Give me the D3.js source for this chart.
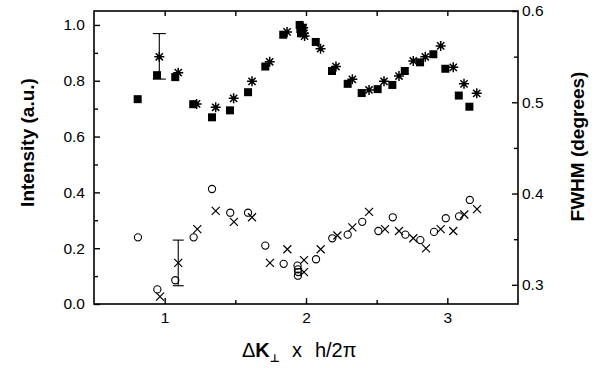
<!DOCTYPE html>
<html>
<head>
<meta charset="utf-8">
<script src="https://cdn.jsdelivr.net/npm/d3@7"></script>
<style>
  body { margin: 0; background: #fff; }
  text { font-family: "Liberation Sans", Arial, Helvetica, sans-serif; fill: #000; }
</style>
</head>
<body>
<svg id="chart" width="600" height="368"></svg>
<script>
// intensity, filled squares (left axis)
var sqX = [0.809, 0.946, 1.075, 1.202, 1.335, 1.462, 1.59, 1.712, 1.839, 1.955, 1.96, 1.965, 1.975,
  2.069, 2.184, 2.295, 2.394, 2.507, 2.611, 2.699, 2.807, 2.901, 2.986, 3.081, 3.156];
var sqY = [0.734, 0.82, 0.813, 0.716, 0.669, 0.694, 0.759, 0.851, 0.965, 1.0, 0.985, 0.97, 0.99,
  0.939, 0.835, 0.789, 0.756, 0.77, 0.785, 0.835, 0.866, 0.895, 0.843, 0.747, 0.707];
// intensity, asterisks (left axis)
var starX = [0.962, 1.096, 1.226, 1.361, 1.488, 1.618, 1.743, 1.866, 1.98, 1.985, 1.99,
  2.103, 2.212, 2.328, 2.446, 2.552, 2.658, 2.759, 2.844, 2.953, 3.042, 3.118, 3.208];
var starY = [0.886, 0.829, 0.717, 0.705, 0.737, 0.798, 0.868, 0.975, 0.99, 0.97, 0.96,
  0.915, 0.851, 0.805, 0.767, 0.798, 0.817, 0.871, 0.886, 0.925, 0.848, 0.789, 0.755];
// FWHM, open circles (right axis)
var circX = [0.811, 0.948, 1.075, 1.205, 1.335, 1.464, 1.59, 1.712, 1.842, 1.94, 1.943, 1.945, 1.943,
  2.071, 2.186, 2.295, 2.398, 2.512, 2.614, 2.703, 2.809, 2.906, 2.989, 3.083, 3.159];
var circY = [0.352, 0.295, 0.305, 0.352, 0.405, 0.379, 0.379, 0.343, 0.323, 0.321, 0.317, 0.314, 0.310,
  0.328, 0.351, 0.355, 0.369, 0.359, 0.374, 0.355, 0.349, 0.358, 0.373, 0.375, 0.393];
// FWHM, crosses (right axis)
var crossX = [0.967, 1.096, 1.231, 1.361, 1.49, 1.618, 1.745, 1.868, 1.986, 1.986,
  2.104, 2.222, 2.328, 2.446, 2.559, 2.658, 2.759, 2.849, 2.953, 3.042, 3.12, 3.21];
var crossY = [0.287, 0.324, 0.361, 0.381, 0.369, 0.374, 0.324, 0.339, 0.327, 0.314,
  0.339, 0.354, 0.363, 0.380, 0.361, 0.359, 0.351, 0.340, 0.361, 0.359, 0.377, 0.383];
// error bars: [x, low, high]
var errLeft = [0.962, 0.806, 0.969];
var errRight = [1.096, 0.299, 0.349];

var xMajor = [1, 2, 3];
var xMinor = [1.5, 2.5];
var yLeftMajor = [0, 0.2, 0.4, 0.6, 0.8, 1.0];
var yLeftMinor = [0.1, 0.3, 0.5, 0.7, 0.9];
var yRightMajor = [0.3, 0.4, 0.5, 0.6];
var yRightMinor = [0.35, 0.45, 0.55];

var svg = d3.select("#chart");
var pL = 94, pR = 518, pT = 11, pB = 304;

var x = d3.scaleLinear().domain([0.5, 3.5]).range([pL, pR]);
var yL = d3.scaleLinear().domain([0, 1.05]).range([pB, pT]);
var yR = d3.scaleLinear().domain([0.279, 0.6]).range([pB, pT]);

function fmt(d) { return d3.format(".1f")(d); }

// axes, ticks pointing inward
function addAxis(axis, tx, ty, vals, size, labels) {
  var g = svg.append("g").attr("transform", "translate(" + tx + "," + ty + ")")
    .call(axis.tickValues(vals).tickSize(-size).tickPadding(6)
      .tickFormat(labels ? labels : function () { return ""; }));
  g.select(".domain").remove();
  g.selectAll("line").attr("stroke", "#000").attr("stroke-width", 1.4);
  g.selectAll("text").style("font-size", "15.5px").attr("fill", "#000");
  return g;
}
addAxis(d3.axisBottom(x), 0, pB, xMajor, 6, d3.format("d")).selectAll("text").attr("dy", "0.85em");
addAxis(d3.axisBottom(x), 0, pB, xMinor, 4, null);
addAxis(d3.axisTop(x), 0, pT, xMajor.concat(xMinor), 5, null);
addAxis(d3.axisLeft(yL), pL, 0, yLeftMajor, 6, fmt).selectAll("text").attr("x", -9);
addAxis(d3.axisLeft(yL), pL, 0, yLeftMinor, 4, null);
addAxis(d3.axisRight(yR), pR, 0, yRightMajor, 6, fmt).selectAll("text").attr("x", 4);
addAxis(d3.axisRight(yR), pR, 0, yRightMinor, 4, null);

svg.append("rect")
  .attr("x", pL).attr("y", pT)
  .attr("width", pR - pL).attr("height", pB - pT)
  .attr("fill", "none").attr("stroke", "#000").attr("stroke-width", 1.6);

// error bars
function errorBar(e, ys, cap) {
  var g = svg.append("g").attr("stroke", "#000").attr("stroke-width", 1.1);
  g.append("line").attr("x1", x(e[0])).attr("x2", x(e[0])).attr("y1", ys(e[1])).attr("y2", ys(e[2]));
  [e[1], e[2]].forEach(function (v) {
    g.append("line").attr("x1", x(e[0]) - cap).attr("x2", x(e[0]) + cap)
      .attr("y1", ys(v)).attr("y2", ys(v));
  });
}
errorBar(errLeft, yL, 6.5);
errorBar(errRight, yR, 5.5);

// squares
svg.append("g").selectAll("rect")
  .data(d3.zip(sqX, sqY)).enter().append("rect")
  .attr("x", function (d) { return x(d[0]) - 4; })
  .attr("y", function (d) { return yL(d[1]) - 4; })
  .attr("width", 8).attr("height", 8)
  .attr("fill", "#000");

// asterisks: 8 arms
var r = 5;
var starPath = "M" + (-r) + ",0L" + r + ",0M0," + (-r) + "L0," + r +
  "M" + (-r * 0.72) + "," + (-r * 0.72) + "L" + (r * 0.72) + "," + (r * 0.72) +
  "M" + (-r * 0.72) + "," + (r * 0.72) + "L" + (r * 0.72) + "," + (-r * 0.72);
var stars = svg.append("g").selectAll("g")
  .data(d3.zip(starX, starY)).enter().append("g")
  .attr("transform", function (d) { return "translate(" + x(d[0]) + "," + yL(d[1]) + ")"; });
stars.append("path").attr("d", starPath).attr("stroke", "#000").attr("stroke-width", 1.5).attr("fill", "none");
stars.append("circle").attr("r", 2).attr("fill", "#000");

// open circles
svg.append("g").selectAll("circle")
  .data(d3.zip(circX, circY)).enter().append("circle")
  .attr("cx", function (d) { return x(d[0]); })
  .attr("cy", function (d) { return yR(d[1]); })
  .attr("r", 3.6)
  .attr("fill", "none").attr("stroke", "#000").attr("stroke-width", 1.1);

// crosses
var c = 4;
svg.append("g").selectAll("path")
  .data(d3.zip(crossX, crossY)).enter().append("path")
  .attr("transform", function (d) { return "translate(" + x(d[0]) + "," + yR(d[1]) + ")"; })
  .attr("d", "M" + (-c) + "," + (-c) + "L" + c + "," + c + "M" + (-c) + "," + c + "L" + c + "," + (-c))
  .attr("stroke", "#000").attr("stroke-width", 1.2).attr("fill", "none");

// axis titles
svg.append("text")
  .attr("transform", "translate(34," + ((pT + pB) / 2 - 15) + ") rotate(-90)")
  .attr("text-anchor", "middle")
  .style("font-size", "19px").style("font-weight", "bold")
  .text("Intensity (a.u.)");

svg.append("text")
  .attr("transform", "translate(584," + ((pT + pB) / 2 - 11) + ") rotate(-90)")
  .attr("text-anchor", "middle")
  .style("font-size", "19px").style("font-weight", "bold")
  .text("FWHM (degrees)");

var xt = svg.append("text")
  .attr("x", 242).attr("y", 357)
  .style("font-size", "20px");
xt.append("tspan").text("\u0394");
xt.append("tspan").style("font-weight", "bold").text("K");
xt.append("tspan").style("font-size", "11px").style("font-family", "DejaVu Sans")
  .style("font-weight", "bold").attr("dy", 5).text("\u22A5");
xt.append("tspan").attr("dy", -5).attr("dx", 12).text("x");
xt.append("tspan").attr("dx", 13).text("h/2\u03C0");
</script>
</body>
</html>
